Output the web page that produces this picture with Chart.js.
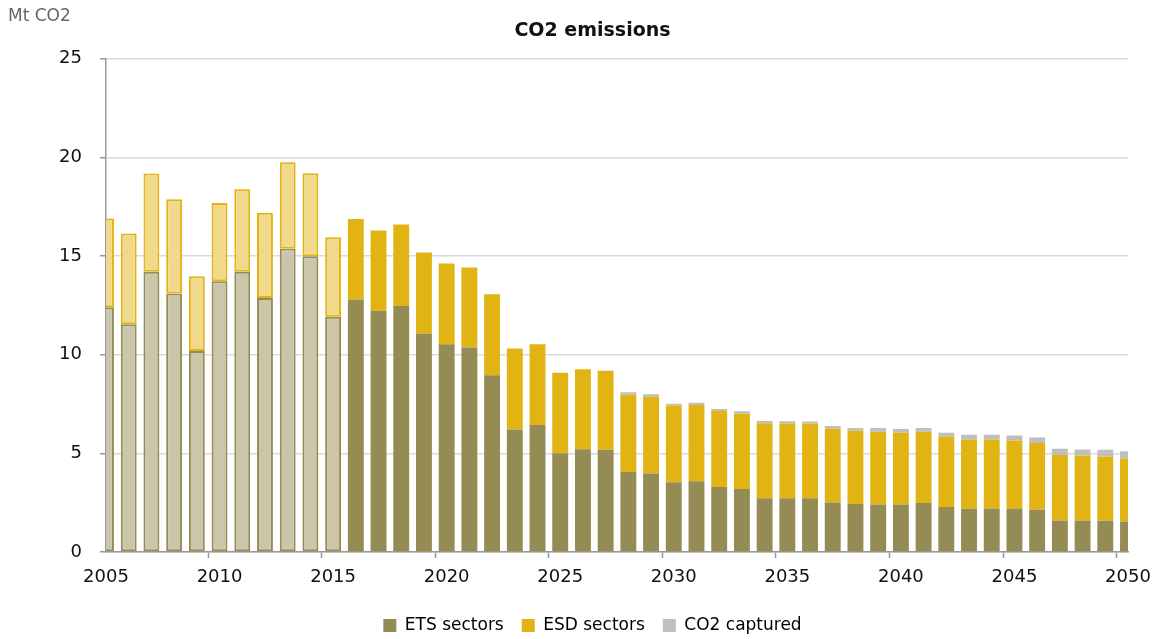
<!DOCTYPE html>
<html>
<head>
<meta charset="utf-8">
<title>CO2 emissions</title>
<script src="https://cdn.jsdelivr.net/npm/chart.js@4.4.1/dist/chart.umd.min.js"></script>
<style>
  html, body { margin: 0; padding: 0; background: #fff; }
  #wrap { width: 1158px; height: 639px; position: relative; }
</style>
</head>
<body>
<div id="wrap"><canvas id="co2Chart"></canvas></div>
<script>
// Data (Mt CO2)
const years = [2005, 2006, 2007, 2008, 2009, 2010, 2011, 2012, 2013, 2014,
  2015, 2016, 2017, 2018, 2019, 2020, 2021, 2022, 2023, 2024,
  2025, 2026, 2027, 2028, 2029, 2030, 2031, 2032, 2033, 2034,
  2035, 2036, 2037, 2038, 2039, 2040, 2041, 2042, 2043, 2044,
  2045, 2046, 2047, 2048, 2049, 2050];

const etsSectors = [12.40, 11.55, 14.20, 13.10, 10.19, 13.73, 14.20, 12.88, 15.38, 14.99,
  11.92, 12.80, 12.23, 12.47, 11.08, 10.53, 10.36, 8.96, 6.21, 6.44,
  5.01, 5.21, 5.18, 4.05, 3.98, 3.53, 3.59, 3.29, 3.19, 2.73,
  2.73, 2.73, 2.51, 2.43, 2.41, 2.41, 2.48, 2.28, 2.19, 2.21,
  2.21, 2.14, 1.60, 1.60, 1.58, 1.55];

const esdSectors = [4.50, 4.59, 4.98, 4.78, 3.79, 3.96, 4.19, 4.32, 4.37, 4.21,
  4.04, 4.08, 4.07, 4.13, 4.10, 4.10, 4.06, 4.10, 4.10, 4.09,
  4.08, 4.05, 4.01, 3.92, 3.89, 3.89, 3.86, 3.86, 3.82, 3.80,
  3.78, 3.78, 3.75, 3.72, 3.69, 3.64, 3.62, 3.57, 3.51, 3.49,
  3.44, 3.39, 3.32, 3.29, 3.26, 3.19];

const co2Captured = [0, 0, 0, 0, 0, 0, 0, 0, 0, 0,
  0, 0, 0, 0, 0, 0, 0, 0, 0, 0,
  0, 0, 0, 0.13, 0.13, 0.10, 0.12, 0.10, 0.12, 0.11,
  0.12, 0.10, 0.13, 0.14, 0.18, 0.19, 0.19, 0.19, 0.24, 0.24,
  0.25, 0.27, 0.31, 0.30, 0.34, 0.37];

const yTicks = [0, 5, 10, 15, 20, 25];
const lastHistoricYear = 2015;

// Colours
const colors = {
  ets: "#958b54",
  etsLight: "#cbc5a9",
  esd: "#e1b413",
  esdLight: "#f1d98b",
  captured: "#bfbfbf"
};
const legendColors = [colors.ets, colors.esd, colors.captured];

function isHistoric(ctx) {
  return ctx.dataIndex !== undefined && years[ctx.dataIndex] <= lastHistoricYear;
}

// "Mt CO2" unit label in the top left corner
const unitLabel = {
  id: "unitLabel",
  afterDraw(chart) {
    const c = chart.ctx;
    c.save();
    c.font = "17px 'DejaVu Sans'";
    c.fillStyle = "#666";
    c.textBaseline = "top";
    c.fillText("Mt CO2", 8, 8);
    c.restore();
  }
};

const ctx = document.getElementById("co2Chart");

new Chart(ctx, {
  type: "bar",
  data: {
    labels: years.map(String),
    datasets: [
      {
        label: "ETS sectors",
        data: etsSectors,
        backgroundColor: c => isHistoric(c) ? colors.etsLight : colors.ets,
        borderColor: colors.ets,
        borderWidth: c => isHistoric(c) ? 2 : 0,
        borderSkipped: false
      },
      {
        label: "ESD sectors",
        data: esdSectors,
        backgroundColor: c => isHistoric(c) ? colors.esdLight : colors.esd,
        borderColor: colors.esd,
        borderWidth: c => isHistoric(c) ? 2 : 0,
        borderSkipped: false
      },
      {
        label: "CO2 captured",
        data: co2Captured,
        backgroundColor: colors.captured,
        borderWidth: 0
      }
    ]
  },
  options: {
    responsive: true,
    maintainAspectRatio: false,
    animation: false,
    datasets: {
      bar: { categoryPercentage: 1, barPercentage: 0.7 }
    },
    layout: {
      padding: { left: 57, right: 30, top: 0, bottom: -5 }
    },
    scales: {
      x: {
        stacked: true,
        offset: false,
        afterFit: axis => {
          axis.height = 47;
          axis.paddingLeft = 0;
          axis.paddingRight = 0;
        },
        grid: {
          drawOnChartArea: false,
          drawTicks: true,
          tickLength: 6,
          tickColor: c => years[c.index] % 5 === 0 ? "#999" : "rgba(0,0,0,0)",
          tickWidth: 1.5
        },
        border: { color: "#999", width: 1.5 },
        ticks: {
          autoSkip: false,
          maxRotation: 0,
          padding: 9,
          color: "#111",
          font: { family: "'DejaVu Sans'", size: 18 },
          callback: (value, index) => years[index] % 5 === 0 ? String(years[index]) : ""
        }
      },
      y: {
        stacked: true,
        min: yTicks[0],
        max: yTicks[yTicks.length - 1],
        afterBuildTicks: axis => { axis.ticks = yTicks.map(v => ({ value: v })); },
        afterFit: axis => { axis.width = 49; },
        grid: {
          color: "#dadada",
          lineWidth: 1.5,
          tickLength: 6,
          tickColor: "#999",
          tickWidth: 1.5
        },
        border: { color: "#999", width: 1.5 },
        ticks: {
          padding: 18,
          color: "#111",
          font: { family: "'DejaVu Sans'", size: 18 }
        }
      }
    },
    plugins: {
      title: {
        display: true,
        text: "CO2 emissions",
        color: "#111",
        font: { family: "'DejaVu Sans'", size: 19, weight: "bold" },
        padding: { top: 20, bottom: 16 }
      },
      legend: {
        position: "bottom",
        labels: {
          boxWidth: 13,
          boxHeight: 13,
          padding: 18,
          color: "#111",
          font: { family: "'DejaVu Sans'", size: 17 },
          generateLabels: chart => chart.data.datasets.map((ds, i) => ({
            text: ds.label,
            fillStyle: legendColors[i],
            strokeStyle: legendColors[i],
            lineWidth: 0,
            hidden: false,
            datasetIndex: i
          }))
        }
      },
      tooltip: { enabled: false }
    }
  },
  plugins: [unitLabel]
});
</script>
</body>
</html>
